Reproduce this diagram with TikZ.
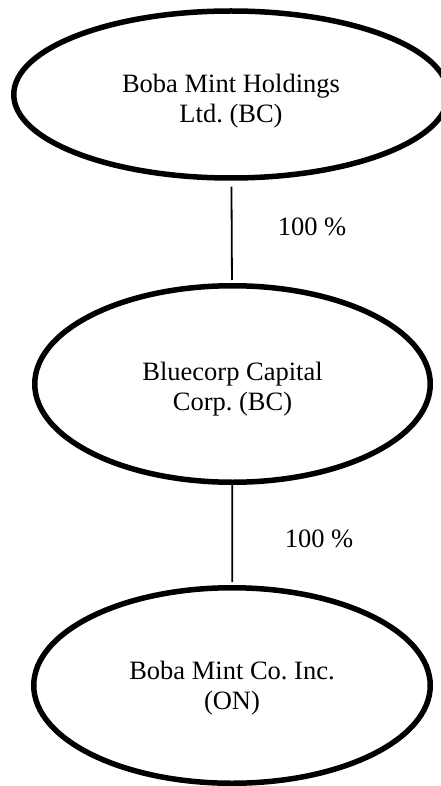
\documentclass[tikz,border=0pt]{standalone}
\usepackage{fontspec}
\setmainfont{Liberation Serif}
\usetikzlibrary{shapes.geometric}
\tikzset{
  entity/.style={ellipse, draw, line width=5.5pt, inner sep=0pt},
  entitytext/.style={align=center, font=\fontsize{26.5}{30}\selectfont},
  share/.style={font=\fontsize{26.5}{30}\selectfont}
}
\begin{document}
\frenchspacing
\begin{tikzpicture}[x=1pt, y=-1pt]
      \useasboundingbox (0,0) rectangle (441,786);
      \draw
        (231,94.5) node[entity, minimum width=434.5pt, minimum height=167pt] (bmh){}
        (232.5,384) node[entity, minimum width=395.5pt, minimum height=196.5pt] (bcc){}
        (232,685.5) node[entity, minimum width=396.5pt, minimum height=195.5pt] (bmc){};
      \draw
        ([yshift=-6.5pt]bmh.center) node[entitytext] (bmhtext){Boba Mint Holdings\\Ltd. (BC)}
        ([yshift=-5.5pt]bcc.center) node[entitytext] (bcctext){Bluecorp Capital\\Corp. (BC)}
        ([yshift=-3pt]bmc.center) node[entitytext] (bmctext){Boba Mint Co. Inc.\\(ON)};
      \draw
        (312,227) node[share] (bmhbcc){100 \%}
        (319,539) node[share] (bccbmc){100 \%};
      \begin{scope}[-, line width=1.8pt]
        \draw[shorten <=6pt, shorten >=3pt] (bmh) to (bcc);
        \draw[shorten >=3pt] (bcc) to (bmc);
      \end{scope}
    \end{tikzpicture}
\end{document}
